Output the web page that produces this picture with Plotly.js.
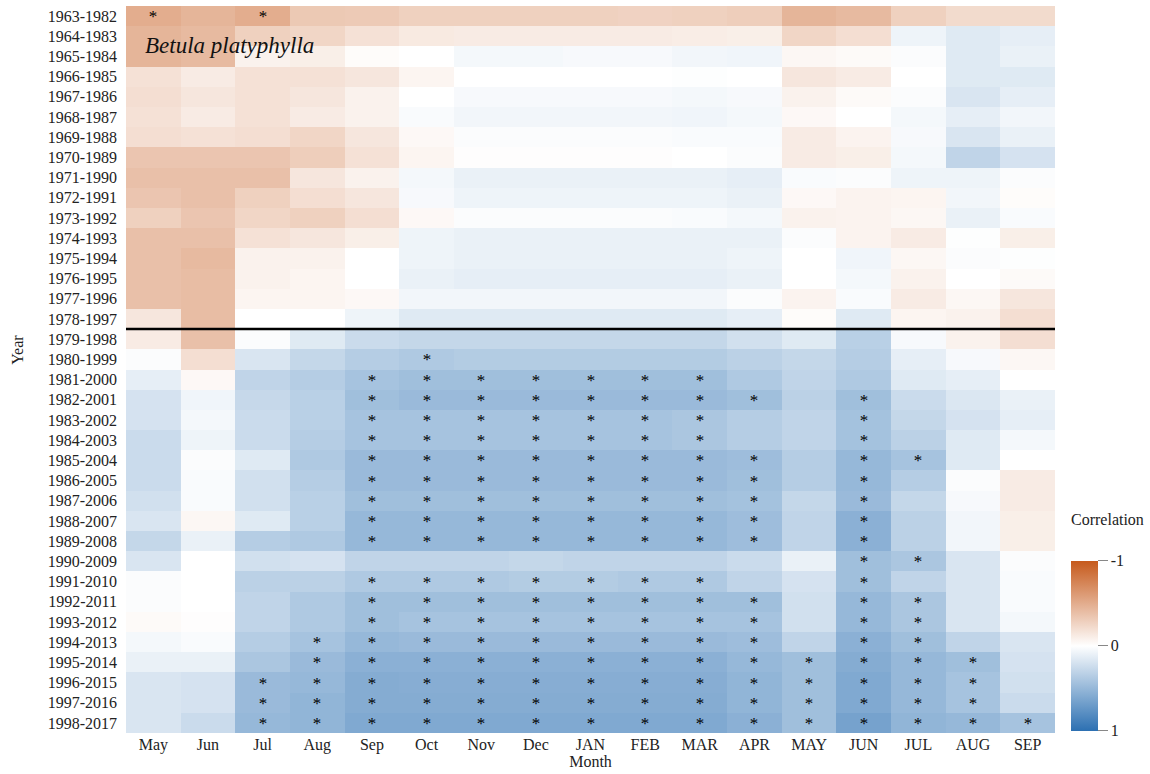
<!DOCTYPE html>
<html>
<head>
<meta charset="utf-8">
<script src="https://cdn.plot.ly/plotly-3.0.1.min.js"></script>
<style>html,body{margin:0;padding:0;background:#fff;}#chart{width:1150px;height:774px;}</style>
</head>
<body>
<div id="chart"></div>
<script>
const months = ["May","Jun","Jul","Aug","Sep","Oct","Nov","Dec","JAN","FEB","MAR","APR","MAY","JUN","JUL","AUG","SEP"];
const periods = ["1963-1982","1964-1983","1965-1984","1966-1985","1967-1986","1968-1987","1969-1988","1970-1989","1971-1990","1972-1991","1973-1992","1974-1993","1975-1994","1976-1995","1977-1996","1978-1997","1979-1998","1980-1999","1981-2000","1982-2001","1983-2002","1984-2003","1985-2004","1986-2005","1987-2006","1988-2007","1989-2008","1990-2009","1991-2010","1992-2011","1993-2012","1994-2013","1995-2014","1996-2015","1997-2016","1998-2017"];
// correlation values, one row per period, columns follow `months`
const corr = [
[-0.50,-0.45,-0.50,-0.33,-0.32,-0.28,-0.28,-0.28,-0.28,-0.27,-0.28,-0.30,-0.45,-0.42,-0.28,-0.22,-0.22],
[-0.45,-0.42,-0.28,-0.25,-0.18,-0.13,-0.12,-0.12,-0.12,-0.12,-0.11,-0.10,-0.25,-0.20,0.08,0.15,0.12],
[-0.45,-0.42,-0.08,-0.10,-0.02,0.00,0.05,0.05,0.04,0.04,0.06,0.07,-0.05,-0.03,0.02,0.15,0.10],
[-0.18,-0.12,-0.18,-0.18,-0.15,-0.06,0.00,0.00,0.00,0.00,0.01,0.00,-0.15,-0.12,0.00,0.15,0.15],
[-0.20,-0.15,-0.18,-0.15,-0.08,0.00,0.04,0.04,0.04,0.04,0.05,0.04,-0.08,-0.03,0.02,0.18,0.12],
[-0.18,-0.12,-0.18,-0.12,-0.08,0.03,0.06,0.06,0.06,0.06,0.07,0.05,-0.04,0.00,0.05,0.12,0.06],
[-0.20,-0.18,-0.20,-0.25,-0.15,-0.04,0.02,0.02,0.02,0.02,0.03,0.03,-0.12,-0.07,0.04,0.18,0.10],
[-0.35,-0.35,-0.35,-0.30,-0.18,-0.06,-0.01,-0.01,-0.01,-0.01,0.00,0.02,-0.12,-0.10,0.05,0.30,0.20],
[-0.38,-0.38,-0.38,-0.15,-0.08,0.05,0.10,0.10,0.10,0.10,0.10,0.12,0.03,0.02,0.08,0.08,0.02],
[-0.35,-0.38,-0.28,-0.20,-0.15,0.04,0.08,0.08,0.08,0.08,0.08,0.10,-0.04,-0.07,-0.06,0.06,-0.02],
[-0.28,-0.35,-0.25,-0.28,-0.20,-0.04,0.02,0.02,0.02,0.02,0.03,0.05,-0.08,-0.07,-0.05,0.10,0.03],
[-0.38,-0.38,-0.18,-0.15,-0.10,0.08,0.10,0.10,0.10,0.10,0.10,0.10,0.02,-0.07,-0.12,0.01,-0.10],
[-0.38,-0.42,-0.08,-0.08,0.00,0.08,0.10,0.10,0.10,0.10,0.10,0.08,0.00,0.07,-0.05,0.02,0.01],
[-0.38,-0.40,-0.08,-0.06,0.00,0.10,0.12,0.12,0.12,0.12,0.12,0.10,0.00,0.05,-0.08,0.00,-0.03],
[-0.38,-0.40,-0.06,-0.06,-0.04,0.06,0.06,0.06,0.06,0.06,0.06,0.02,-0.07,0.03,-0.12,-0.05,-0.15],
[-0.15,-0.40,0.00,0.00,0.08,0.15,0.15,0.15,0.15,0.15,0.15,0.12,-0.02,0.15,-0.06,-0.08,-0.20],
[-0.12,-0.38,0.02,0.15,0.25,0.28,0.28,0.28,0.28,0.28,0.28,0.22,0.15,0.33,0.04,-0.08,-0.20],
[0.02,-0.20,0.18,0.28,0.35,0.38,0.36,0.36,0.36,0.36,0.36,0.32,0.28,0.35,0.12,0.04,-0.05],
[0.12,-0.04,0.30,0.35,0.42,0.45,0.45,0.45,0.45,0.45,0.45,0.38,0.30,0.38,0.15,0.12,0.00],
[0.20,0.07,0.27,0.33,0.45,0.48,0.48,0.48,0.48,0.48,0.48,0.45,0.32,0.45,0.25,0.17,0.10],
[0.20,0.05,0.25,0.33,0.42,0.42,0.42,0.42,0.42,0.42,0.40,0.35,0.30,0.43,0.28,0.20,0.12],
[0.25,0.08,0.25,0.35,0.42,0.42,0.42,0.42,0.42,0.42,0.40,0.35,0.30,0.43,0.32,0.15,0.05],
[0.25,0.02,0.15,0.38,0.48,0.48,0.48,0.48,0.48,0.48,0.48,0.46,0.35,0.50,0.42,0.15,0.00],
[0.25,0.03,0.22,0.35,0.48,0.48,0.48,0.48,0.48,0.48,0.48,0.45,0.35,0.50,0.35,0.02,-0.12],
[0.22,0.03,0.22,0.33,0.45,0.45,0.45,0.45,0.45,0.45,0.45,0.43,0.28,0.48,0.28,0.04,-0.12],
[0.18,-0.05,0.15,0.33,0.50,0.50,0.50,0.50,0.50,0.50,0.50,0.46,0.30,0.55,0.32,0.06,-0.10],
[0.28,0.10,0.35,0.38,0.50,0.50,0.50,0.50,0.50,0.50,0.50,0.46,0.30,0.55,0.32,0.06,-0.10],
[0.18,0.00,0.22,0.20,0.30,0.30,0.30,0.28,0.30,0.30,0.30,0.25,0.10,0.45,0.40,0.18,0.02],
[0.02,0.00,0.32,0.32,0.38,0.38,0.38,0.36,0.36,0.38,0.38,0.30,0.20,0.45,0.30,0.18,0.03],
[0.02,0.00,0.30,0.38,0.45,0.45,0.45,0.45,0.45,0.45,0.45,0.45,0.22,0.50,0.40,0.18,0.03],
[-0.03,-0.01,0.30,0.38,0.45,0.42,0.42,0.42,0.42,0.42,0.42,0.42,0.22,0.50,0.40,0.18,0.05],
[0.05,0.03,0.35,0.42,0.50,0.48,0.48,0.48,0.48,0.48,0.48,0.46,0.30,0.55,0.45,0.30,0.18],
[0.10,0.10,0.40,0.48,0.55,0.55,0.55,0.55,0.55,0.55,0.55,0.50,0.45,0.58,0.50,0.45,0.20],
[0.18,0.20,0.48,0.50,0.58,0.57,0.57,0.57,0.57,0.57,0.57,0.52,0.45,0.60,0.50,0.42,0.22],
[0.18,0.20,0.48,0.52,0.58,0.58,0.58,0.58,0.58,0.58,0.58,0.52,0.45,0.60,0.50,0.42,0.25],
[0.18,0.25,0.50,0.52,0.60,0.60,0.60,0.60,0.60,0.60,0.60,0.55,0.45,0.65,0.52,0.50,0.42]
];
// significance flags (1 = marked with *), one string per period, columns follow `months`
const sig = [
"10100000000000000","00000000000000000","00000000000000000","00000000000000000",
"00000000000000000","00000000000000000","00000000000000000","00000000000000000",
"00000000000000000","00000000000000000","00000000000000000","00000000000000000",
"00000000000000000","00000000000000000","00000000000000000","00000000000000000",
"00000000000000000","00000100000000000","00001111111000000","00001111111101000",
"00001111111001000","00001111111001000","00001111111101100","00001111111101000",
"00001111111101000","00001111111101000","00001111111101000","00000000000001100",
"00001111111001000","00001111111101100","00001111111101100","00011111111101100",
"00011111111111110","00111111111111110","00111111111111110","00111111111111111"
];

const FONT = "Liberation Serif, Times New Roman, serif";
const xIdx = months.map((m,i)=>i);
const yIdx = periods.map((p,i)=>i);
// colour bar runs from -1 (top) to 1 (bottom): plot the negated value and relabel
const zDisp = corr.map(r => r.map(v => -v));
const stars = sig.map(s => s.split("").map(c => c === "1" ? "*" : ""));

const trace = {
  type: "heatmap",
  x: xIdx, y: yIdx, z: zDisp,
  customdata: corr,
  text: stars,
  texttemplate: "%{text}",
  textfont: {family: FONT, size: 17, color: "#000"},
  zmin: -1, zmax: 1,
  colorscale: [[0,"rgb(44,112,178)"],[0.5,"rgb(255,255,255)"],[1,"rgb(198,90,28)"]],
  hovertemplate: "%{customdata}<extra></extra>",
  xgap: 0, ygap: 0,
  colorbar: {
    x: 1.0175, xanchor: "left", xpad: 0,
    y: 0.12, yanchor: "middle", ypad: 0,
    len: 0.234, lenmode: "fraction", thickness: 27,
    outlinewidth: 0,
    tickvals: [-1,0,1], ticktext: ["1","0","-1"],
    ticks: "outside", ticklen: 10, tickcolor: "#888", tickwidth: 1,
    tickfont: {family: FONT, size: 16, color: "#222"}
  }
};

const layout = {
  width: 1150, height: 774,
  margin: {l: 126, r: 95, t: 6, b: 41, autoexpand: false},
  paper_bgcolor: "#fff", plot_bgcolor: "#fff",
  font: {family: FONT, size: 16, color: "#222"},
  xaxis: {
    tickvals: xIdx, ticktext: months, range: [-0.5, months.length - 0.5],
    showgrid: false, zeroline: false, ticks: "", showline: false,
    tickfont: {family: FONT, size: 16, color: "#222"},
    title: {text: "Month", font: {family: FONT, size: 16, color: "#222"}, standoff: 2},
    automargin: false
  },
  yaxis: {
    tickvals: yIdx, ticktext: periods, range: [periods.length - 0.5, -0.5],
    showgrid: false, zeroline: false, ticks: "", showline: false,
    tickfont: {family: FONT, size: 16, color: "#222"},
    ticklabelstandoff: 8,
    automargin: false
  },
  shapes: [{
    type: "line", xref: "paper", x0: 0, x1: 1, yref: "y", y0: 15.5, y1: 15.5,
    line: {color: "#000", width: 2.5}
  }],
  annotations: [
    {text: "Year", xref: "paper", yref: "paper", x: -0.1163, y: 0.527,
     xanchor: "center", yanchor: "middle", textangle: -90, showarrow: false,
     font: {family: FONT, size: 16, color: "#222"}},
    {text: "<i>Betula platyphylla</i>", xref: "paper", yref: "paper", x: 0.018, y: 0.946,
     xanchor: "left", yanchor: "middle", showarrow: false,
     font: {family: FONT, size: 23, color: "#111"}},
    {text: "Correlation", xref: "paper", yref: "paper", x: 1.057, y: 0.294,
     xanchor: "center", yanchor: "middle", showarrow: false,
     font: {family: FONT, size: 16, color: "#222"}}
  ]
};

Plotly.newPlot("chart", [trace], layout, {displayModeBar: false, staticPlot: true});
</script>
</body>
</html>
